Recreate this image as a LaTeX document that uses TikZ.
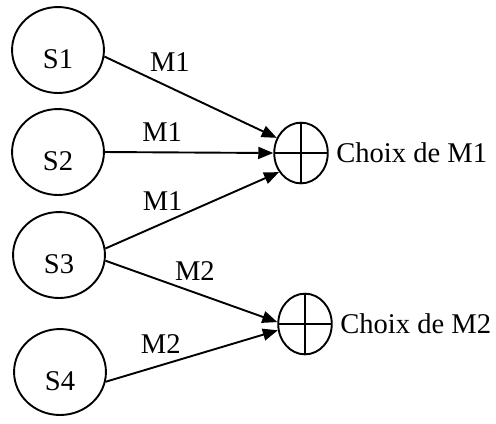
\documentclass[tikz,border=0pt]{standalone}
\usepackage{fontspec}
\setmainfont{Liberation Serif}
\usetikzlibrary{shapes.geometric, arrows.meta, positioning}

\begin{document}
\begin{tikzpicture}[x=0.42pt, y=-0.42pt,
    every node/.style={font=\fontsize{12}{14}\selectfont},
    source/.style={ellipse, draw, line width=0.8pt, minimum width=38.6pt,
                   minimum height=36.1pt, inner sep=0pt, text height=15.5pt, text depth=0pt},
    choix/.style={ellipse, draw, line width=0.8pt, minimum width=22.5pt,
                  minimum height=25.5pt, inner sep=0pt,
                  path picture={\draw[line width=0.8pt]
                      (path picture bounding box.north) -- (path picture bounding box.south)
                      (path picture bounding box.west) -- (path picture bounding box.east);}},
    fleche/.style={line width=0.8pt, -{Triangle[length=6.3pt, width=5pt]}},
    etiquette/.style={inner sep=4pt}
]
\useasboundingbox (0,0) rectangle (496,423);

% Sources
\node[source] (S1) at (58,50) {S1};
\node[source] (S2) at (58,152) {S2};
\node[source] (S3) at (59,255) {S3};
\node[source] (S4) at (60,372) {S4};

% Choix
\node[choix] (C1) at (301,153) {};
\node[choix] (C2) at (305,324) {};
\node[right=1pt of C1, inner sep=2pt] (t1) {Choix de M1};
\node[right=1pt of C2, inner sep=2pt] (t2) {Choix de M2};

% Connections
\foreach \src/\dst/\a/\b/\txt/\p/\d in {S1/C1/-8/148/M1/0.38/2.5pt,
        S2/C1/0/180/M1/0.34/0pt, S3/C1/8/221/M1/0.33/0.8pt,
        S3/C2/-7/176/M2/0.52/0.8pt, S4/C2/-12/193/M2/0.32/0.4pt}
    \draw[fleche] (\src.\a) -- node[etiquette, pos=\p, above=\d] (l-\src-\dst) {\txt} (\dst.\b);

\end{tikzpicture}
\end{document}
